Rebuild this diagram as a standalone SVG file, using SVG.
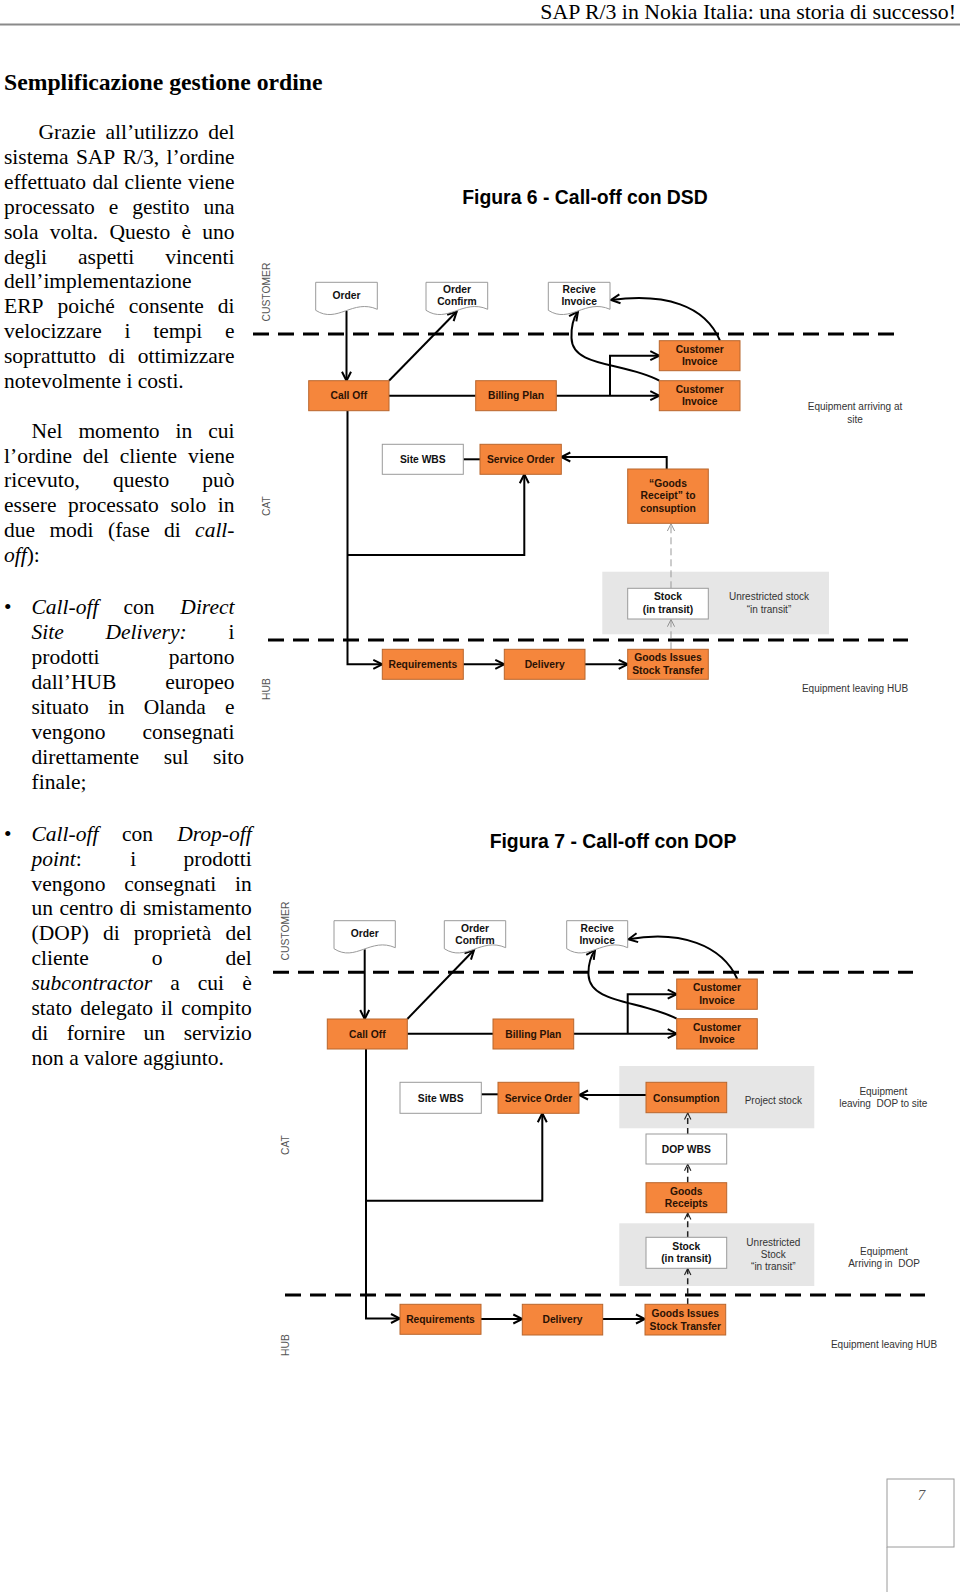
<svg xmlns="http://www.w3.org/2000/svg" width="960" height="1592" viewBox="0 0 960 1592">
<defs>
<style>
.t{font-family:"Liberation Serif","Times New Roman",serif;font-size:21.5px;fill:#000}
.i{font-style:italic}
.h{font-family:"Liberation Serif","Times New Roman",serif;font-size:23.7px;font-weight:bold;fill:#000}
.fig{font-family:"Liberation Sans",Arial,sans-serif;font-size:19.4px;font-weight:bold;fill:#000;text-anchor:middle}
.o{fill:#F5863C;stroke:#B8662D;stroke-width:1}
.w{fill:#fff;stroke:#9a9a9a;stroke-width:1}
.bg{fill:#e6e6e6}
.bt{font-family:"Liberation Sans",Arial,sans-serif;font-size:10.3px;font-weight:bold;fill:#2a1204;text-anchor:middle}
.wt{font-family:"Liberation Sans",Arial,sans-serif;font-size:10.3px;font-weight:bold;fill:#111;text-anchor:middle}
.an{font-family:"Liberation Sans",Arial,sans-serif;font-size:10px;fill:#333;text-anchor:middle}
.ln{font-family:"Liberation Sans",Arial,sans-serif;font-size:10.3px;fill:#555;text-anchor:middle}
.c{fill:none;stroke:#000;stroke-width:2}
.ca{fill:none;stroke:#000;stroke-width:2;marker-end:url(#a)}
.lane{fill:none;stroke:#000;stroke-width:3;stroke-dasharray:16 9}
.gd{fill:none;stroke:#999;stroke-width:1;stroke-dasharray:7 4;marker-end:url(#g)}
.dd{fill:none;stroke:#222;stroke-width:1.5;stroke-dasharray:6 4;marker-end:url(#d)}
</style>
<marker id="a" viewBox="0 0 12 12" refX="10" refY="6" markerWidth="12" markerHeight="12" markerUnits="userSpaceOnUse" orient="auto"><path d="M1,1.5 L10,6 L1,10.5" fill="none" stroke="#000" stroke-width="2"/></marker>
<marker id="g" viewBox="0 0 10 10" refX="9" refY="5" markerWidth="9" markerHeight="9" markerUnits="userSpaceOnUse" orient="auto"><path d="M1,1 L9,5 L1,9" fill="none" stroke="#888" stroke-width="1"/></marker>
<marker id="d" viewBox="0 0 10 10" refX="9" refY="5" markerWidth="8" markerHeight="8" markerUnits="userSpaceOnUse" orient="auto"><path d="M1,1 L9,5 L1,9" fill="none" stroke="#222" stroke-width="1.4"/></marker>
</defs>
<rect width="960" height="1592" fill="#fff"/>

<!-- page header -->
<g id="header">
<text class="t" x="956" y="19.3" text-anchor="end" style="font-size:21.8px">SAP R/3 in Nokia Italia: una storia di successo!</text>
<line x1="0" y1="24.5" x2="960" y2="24.5" stroke="#8a8a8a" stroke-width="2"/>
<text class="h" x="4" y="89.5">Semplificazione gestione ordine</text>
</g>

<!-- body text -->
<g id="body-text">
<text class="t" y="139"><tspan x="38.6">Grazie</tspan><tspan x="105.4">all’utilizzo</tspan><tspan x="234.5" text-anchor="end">del</tspan></text>
<text class="t" y="163.9"><tspan x="4">sistema</tspan><tspan x="75.9">SAP</tspan><tspan x="122.7">R/3,</tspan><tspan x="234.5" text-anchor="end">l’ordine</tspan></text>
<text class="t" y="188.8"><tspan x="4">effettuato</tspan><tspan x="92.4">dal</tspan><tspan x="124.6">cliente</tspan><tspan x="234.5" text-anchor="end">viene</tspan></text>
<text class="t" y="213.7"><tspan x="4">processato</tspan><tspan x="108.7">e</tspan><tspan x="132.2">gestito</tspan><tspan x="234.5" text-anchor="end">una</tspan></text>
<text class="t" y="238.6"><tspan x="4">sola</tspan><tspan x="49.8">volta.</tspan><tspan x="109.4">Questo</tspan><tspan x="181.5">è</tspan><tspan x="234.5" text-anchor="end">uno</tspan></text>
<text class="t" y="263.5"><tspan x="4">degli</tspan><tspan x="78">aspetti</tspan><tspan x="234.5" text-anchor="end">vincenti</tspan></text>
<text class="t" y="288.4" x="4">dell’implementazione</text>
<text class="t" y="313.3"><tspan x="4">ERP</tspan><tspan x="57.4">poiché</tspan><tspan x="128.7">consente</tspan><tspan x="234.5" text-anchor="end">di</tspan></text>
<text class="t" y="338.2"><tspan x="4">velocizzare</tspan><tspan x="124.6">i</tspan><tspan x="153.3">tempi</tspan><tspan x="234.5" text-anchor="end">e</tspan></text>
<text class="t" y="363.1"><tspan x="4">soprattutto</tspan><tspan x="108.5">di</tspan><tspan x="234.5" text-anchor="end">ottimizzare</tspan></text>
<text class="t" y="388" x="4">notevolmente i costi.</text>

<text class="t" y="437.6"><tspan x="31.5">Nel</tspan><tspan x="78.4">momento</tspan><tspan x="175.5">in</tspan><tspan x="234.5" text-anchor="end">cui</tspan></text>
<text class="t" y="462.5"><tspan x="4">l’ordine</tspan><tspan x="82.8">del</tspan><tspan x="119.8">cliente</tspan><tspan x="234.5" text-anchor="end">viene</tspan></text>
<text class="t" y="487.4"><tspan x="4">ricevuto,</tspan><tspan x="113">questo</tspan><tspan x="234.5" text-anchor="end">può</tspan></text>
<text class="t" y="512.3"><tspan x="4">essere</tspan><tspan x="68.1">processato</tspan><tspan x="170.4">solo</tspan><tspan x="234.5" text-anchor="end">in</tspan></text>
<text class="t" y="537.2"><tspan x="4">due</tspan><tspan x="49.4">modi</tspan><tspan x="108">(fase</tspan><tspan x="164.1">di</tspan><tspan x="234.5" text-anchor="end" class="i">call-</tspan></text>
<text class="t" y="562.1" x="4"><tspan class="i">off</tspan>):</text>

<text class="t" x="4" y="614.3">•</text>
<text class="t" y="614.3"><tspan x="31.5" class="i">Call-off</tspan><tspan x="123.5">con</tspan><tspan x="234.5" text-anchor="end" class="i">Direct</tspan></text>
<text class="t" y="639.2"><tspan x="31.5" class="i">Site</tspan><tspan x="105.5" class="i">Delivery:</tspan><tspan x="234.5" text-anchor="end">i</tspan></text>
<text class="t" y="664.1"><tspan x="31.5">prodotti</tspan><tspan x="234.5" text-anchor="end">partono</tspan></text>
<text class="t" y="689"><tspan x="31.5">dall’HUB</tspan><tspan x="234.5" text-anchor="end">europeo</tspan></text>
<text class="t" y="713.9"><tspan x="31.5">situato</tspan><tspan x="107.9">in</tspan><tspan x="143.7">Olanda</tspan><tspan x="234.5" text-anchor="end">e</tspan></text>
<text class="t" y="738.8"><tspan x="31.5">vengono</tspan><tspan x="234.5" text-anchor="end">consegnati</tspan></text>
<text class="t" y="763.7"><tspan x="31.5">direttamente</tspan><tspan x="163.7">sul</tspan><tspan x="244" text-anchor="end">sito</tspan></text>
<text class="t" y="788.6" x="31.5">finale;</text>

<text class="t" x="4" y="840.7">•</text>
<text class="t" y="840.7"><tspan x="31.5" class="i">Call-off</tspan><tspan x="121.9">con</tspan><tspan x="251.7" text-anchor="end" class="i">Drop-off</tspan></text>
<text class="t" y="865.6"><tspan x="31.5" class="i">point</tspan>:<tspan x="130.2">i</tspan><tspan x="251.7" text-anchor="end">prodotti</tspan></text>
<text class="t" y="890.5"><tspan x="31.5">vengono</tspan><tspan x="124.2">consegnati</tspan><tspan x="251.7" text-anchor="end">in</tspan></text>
<text class="t" y="915.4"><tspan x="31.5">un</tspan><tspan x="59.5">centro</tspan><tspan x="119.8">di</tspan><tspan x="251.7" text-anchor="end">smistamento</tspan></text>
<text class="t" y="940.3"><tspan x="31.5">(DOP)</tspan><tspan x="102.9">di</tspan><tspan x="133.7">proprietà</tspan><tspan x="251.7" text-anchor="end">del</tspan></text>
<text class="t" y="965.2"><tspan x="31.5">cliente</tspan><tspan x="151.7">o</tspan><tspan x="251.7" text-anchor="end">del</tspan></text>
<text class="t" y="990.1"><tspan x="31.5" class="i">subcontractor</tspan><tspan x="170.2">a</tspan><tspan x="197.8">cui</tspan><tspan x="251.7" text-anchor="end">è</tspan></text>
<text class="t" y="1015"><tspan x="31.5">stato</tspan><tspan x="80.2">delegato</tspan><tspan x="161.1">il</tspan><tspan x="251.7" text-anchor="end">compito</tspan></text>
<text class="t" y="1039.9"><tspan x="31.5">di</tspan><tspan x="66.7">fornire</tspan><tspan x="143.6">un</tspan><tspan x="251.7" text-anchor="end">servizio</tspan></text>
<text class="t" y="1064.8" x="31.5">non a valore aggiunto.</text>
</g>

<!-- ================= FIGURA 6 ================= -->
<g id="fig6-title"><text class="fig" x="585" y="204">Figura 6 - Call-off con DSD</text></g>

<g id="fig6-lanes">
<path class="lane" d="M253,334 H897"/>
<path class="lane" d="M268,640 H908"/>
<text class="ln" transform="translate(269.7,292) rotate(-90)">CUSTOMER</text>
<text class="ln" transform="translate(269.7,506) rotate(-90)">CAT</text>
<text class="ln" transform="translate(269.7,689) rotate(-90)">HUB</text>
</g>

<g id="fig6-stockbg"><rect class="bg" x="602.3" y="571.7" width="226.7" height="62.6"/></g>

<g id="fig6-connectors">
<path class="ca" d="M346.5,311 V380.7"/>
<path class="ca" d="M389,380.7 L456.7,311.5"/>
<path class="c" d="M389,395.7 H475.7"/>
<path class="ca" d="M556.3,395.7 H659.3"/>
<path class="ca" d="M610,395.7 V355.7 H659.3"/>
<path class="ca" d="M720,340.7 C705,305 665,293 611,300"/>
<path class="ca" d="M659.3,380.7 C625,362 572,368 571.5,338 C571,326 574,317 578,311.5"/>
<path class="ca" d="M347.5,410.7 V664.3 H382.3"/>
<path class="ca" d="M347.5,555 H524.3 V474.3"/>
<path class="c" d="M463.3,459.3 H480"/>
<path class="ca" d="M666.7,469 V457 H561.3"/>
<path class="ca" d="M463.3,664.3 H504.3"/>
<path class="ca" d="M585,664.3 H627.7"/>
<path class="gd" d="M671,649.3 V619.5"/>
<path class="gd" d="M671,588.3 V523.8"/>
</g>

<g id="fig6-order"><path class="w" d="M315.7,282.3 H377.3 V309.3 C352.7,298.3 337.3,324.3 315.7,310.3 Z"/><text class="wt" x="346.5" y="298.7">Order</text></g>
<g id="fig6-orderconfirm"><path class="w" d="M426,282.3 H487.7 V309.3 C463,298.3 447.6,324.3 426,310.3 Z"/><text class="wt" x="456.9" y="293">Order</text><text class="wt" x="456.9" y="305.4">Confirm</text></g>
<g id="fig6-reciveinvoice"><path class="w" d="M548.3,282.3 H610 V309.3 C585.3,298.3 569.9,324.3 548.3,310.3 Z"/><text class="wt" x="579.2" y="293">Recive</text><text class="wt" x="579.2" y="305.4">Invoice</text></g>
<g id="fig6-calloff"><rect class="o" x="308.7" y="380.7" width="80.3" height="30"/><text class="bt" x="348.8" y="399.4">Call Off</text></g>
<g id="fig6-billingplan"><rect class="o" x="475.7" y="380.7" width="80.6" height="30"/><text class="bt" x="516" y="399.4">Billing Plan</text></g>
<g id="fig6-custinv1"><rect class="o" x="659.3" y="340.7" width="80.7" height="30"/><text class="bt" x="699.7" y="353">Customer</text><text class="bt" x="699.7" y="364.7">Invoice</text></g>
<g id="fig6-custinv2"><rect class="o" x="659.3" y="380.7" width="80.7" height="30"/><text class="bt" x="699.7" y="392.7">Customer</text><text class="bt" x="699.7" y="404.7">Invoice</text></g>
<g id="fig6-sitewbs"><rect class="w" x="382.3" y="444.3" width="81" height="30"/><text class="wt" x="422.8" y="463">Site WBS</text></g>
<g id="fig6-serviceorder"><rect class="o" x="480" y="444.3" width="81.3" height="30"/><text class="bt" x="520.7" y="463">Service Order</text></g>
<g id="fig6-goodsreceipt"><rect class="o" x="627.7" y="469" width="80.6" height="54.3"/><text class="bt" x="668" y="487">“Goods</text><text class="bt" x="668" y="499.4">Receipt” to</text><text class="bt" x="668" y="512">consuption</text></g>
<g id="fig6-stock"><rect class="w" x="627.7" y="588.3" width="80.6" height="30.7"/><text class="wt" x="668" y="600.4">Stock</text><text class="wt" x="668" y="612.7">(in transit)</text></g>
<g id="fig6-goodsissues"><rect class="o" x="627.7" y="649.3" width="80.6" height="30"/><text class="bt" x="668" y="661.4">Goods Issues</text><text class="bt" x="668" y="673.7">Stock Transfer</text></g>
<g id="fig6-requirements"><rect class="o" x="382.3" y="649.3" width="81" height="30"/><text class="bt" x="422.8" y="668">Requirements</text></g>
<g id="fig6-delivery"><rect class="o" x="504.3" y="649.3" width="80.7" height="30"/><text class="bt" x="544.7" y="668">Delivery</text></g>

<g id="fig6-notes">
<text class="an" x="855" y="410.3">Equipment arriving at</text>
<text class="an" x="855" y="422.6">site</text>
<text class="an" x="769" y="600.3">Unrestricted stock</text>
<text class="an" x="769" y="612.6">“in transit”</text>
<text class="an" x="855" y="692">Equipment leaving HUB</text>
</g>

<!-- ================= FIGURA 7 ================= -->
<g id="fig7-title"><text class="fig" x="613" y="847.5">Figura 7 - Call-off con DOP</text></g>

<g id="fig7-lanes">
<path class="lane" d="M273,972.3 H913"/>
<path class="lane" d="M285,1295 H925"/>
<text class="ln" transform="translate(288.7,931) rotate(-90)">CUSTOMER</text>
<text class="ln" transform="translate(288.7,1145) rotate(-90)">CAT</text>
<text class="ln" transform="translate(288.7,1345) rotate(-90)">HUB</text>
</g>

<g id="fig7-stockbg">
<rect class="bg" x="619.3" y="1066" width="195" height="62.3"/>
<rect class="bg" x="619.3" y="1223.3" width="195" height="62.7"/>
</g>

<g id="fig7-connectors">
<path class="ca" d="M364.7,949.3 V1019"/>
<path class="ca" d="M407.3,1019 L474,950"/>
<path class="c" d="M407.3,1033.7 H493"/>
<path class="ca" d="M573.7,1033.7 H676.7"/>
<path class="ca" d="M627.7,1033.7 V994.2 H676.7"/>
<path class="ca" d="M737.3,979 C722,945 680,930 628.5,939.3"/>
<path class="ca" d="M676.7,1018.7 C640,1000 590,1004 588.5,975 C588,963 591,956 595,950"/>
<path class="ca" d="M366,1049 V1318.5 H400"/>
<path class="ca" d="M366,1200.7 H542.3 V1113.3"/>
<path class="c" d="M481.3,1094.3 H498"/>
<path class="ca" d="M646,1095 H579"/>
<path class="ca" d="M481,1319 H522.3"/>
<path class="ca" d="M602.7,1319 H645"/>
<path class="dd" d="M687.7,1134 V1113"/>
<path class="dd" d="M687.7,1182.7 V1164.3"/>
<path class="dd" d="M687.7,1237.3 V1213"/>
<path class="dd" d="M687.7,1304.3 V1268.6"/>
</g>

<g id="fig7-order"><path class="w" d="M334,920.7 H395.3 V947.7 C370.8,936.7 355.5,962.7 334,948.7 Z"/><text class="wt" x="364.7" y="937">Order</text></g>
<g id="fig7-orderconfirm"><path class="w" d="M444.3,920.7 H505.7 V947.7 C481.1,936.7 465.8,962.7 444.3,948.7 Z"/><text class="wt" x="475" y="932">Order</text><text class="wt" x="475" y="944.4">Confirm</text></g>
<g id="fig7-reciveinvoice"><path class="w" d="M566.7,920.7 H627.7 V947.7 C603.3,936.7 588,962.7 566.7,948.7 Z"/><text class="wt" x="597.2" y="932">Recive</text><text class="wt" x="597.2" y="944.4">Invoice</text></g>
<g id="fig7-calloff"><rect class="o" x="327.3" y="1019" width="80" height="30"/><text class="bt" x="367.3" y="1037.7">Call Off</text></g>
<g id="fig7-billingplan"><rect class="o" x="493" y="1019" width="80.7" height="30"/><text class="bt" x="533.3" y="1037.7">Billing Plan</text></g>
<g id="fig7-custinv1"><rect class="o" x="676.7" y="979" width="80.6" height="30.3"/><text class="bt" x="717" y="991">Customer</text><text class="bt" x="717" y="1003.7">Invoice</text></g>
<g id="fig7-custinv2"><rect class="o" x="676.7" y="1018.7" width="80.6" height="30.3"/><text class="bt" x="717" y="1031">Customer</text><text class="bt" x="717" y="1043">Invoice</text></g>
<g id="fig7-sitewbs"><rect class="w" x="400" y="1082.3" width="81.3" height="31"/><text class="wt" x="440.7" y="1101.7">Site WBS</text></g>
<g id="fig7-serviceorder"><rect class="o" x="498" y="1082.3" width="81" height="31"/><text class="bt" x="538.5" y="1101.7">Service Order</text></g>
<g id="fig7-consumption"><rect class="o" x="646" y="1082.3" width="80.7" height="30.4"/><text class="bt" x="686.3" y="1101.7">Consumption</text></g>
<g id="fig7-dopwbs"><rect class="w" x="646" y="1134" width="80.7" height="30"/><text class="wt" x="686.3" y="1152.7">DOP WBS</text></g>
<g id="fig7-goodsreceipts"><rect class="o" x="646" y="1182.7" width="80.7" height="30"/><text class="bt" x="686.3" y="1194.7">Goods</text><text class="bt" x="686.3" y="1207">Receipts</text></g>
<g id="fig7-stock"><rect class="w" x="646" y="1237.3" width="80.7" height="31"/><text class="wt" x="686.3" y="1249.7">Stock</text><text class="wt" x="686.3" y="1262">(in transit)</text></g>
<g id="fig7-goodsissues"><rect class="o" x="645" y="1304.3" width="80.7" height="30.7"/><text class="bt" x="685.3" y="1317">Goods Issues</text><text class="bt" x="685.3" y="1329.7">Stock Transfer</text></g>
<g id="fig7-requirements"><rect class="o" x="400" y="1304.3" width="81" height="30"/><text class="bt" x="440.5" y="1323">Requirements</text></g>
<g id="fig7-delivery"><rect class="o" x="522.3" y="1304.3" width="80.4" height="30.7"/><text class="bt" x="562.5" y="1323.4">Delivery</text></g>

<g id="fig7-notes">
<text class="an" x="773.3" y="1103.7">Project stock</text>
<text class="an" x="883.3" y="1094.7">Equipment</text>
<text class="an" x="883.3" y="1107" xml:space="preserve">leaving  DOP to site</text>
<text class="an" x="773.3" y="1246">Unrestricted</text>
<text class="an" x="773.3" y="1258.2">Stock</text>
<text class="an" x="773.3" y="1270.4">“in transit”</text>
<text class="an" x="884" y="1255.4">Equipment</text>
<text class="an" x="884" y="1267" xml:space="preserve">Arriving in  DOP</text>
<text class="an" x="884" y="1347.7">Equipment leaving HUB</text>
</g>

<!-- page number -->
<g id="page-number">
<rect x="887" y="1479" width="67" height="68" fill="none" stroke="#9a9a9a" stroke-width="1"/>
<line x1="887" y1="1547" x2="887" y2="1592" stroke="#9a9a9a" stroke-width="1"/>
<text class="t i" x="921.5" y="1500" text-anchor="middle" style="font-size:15px;fill:#555">7</text>
</g>
</svg>
